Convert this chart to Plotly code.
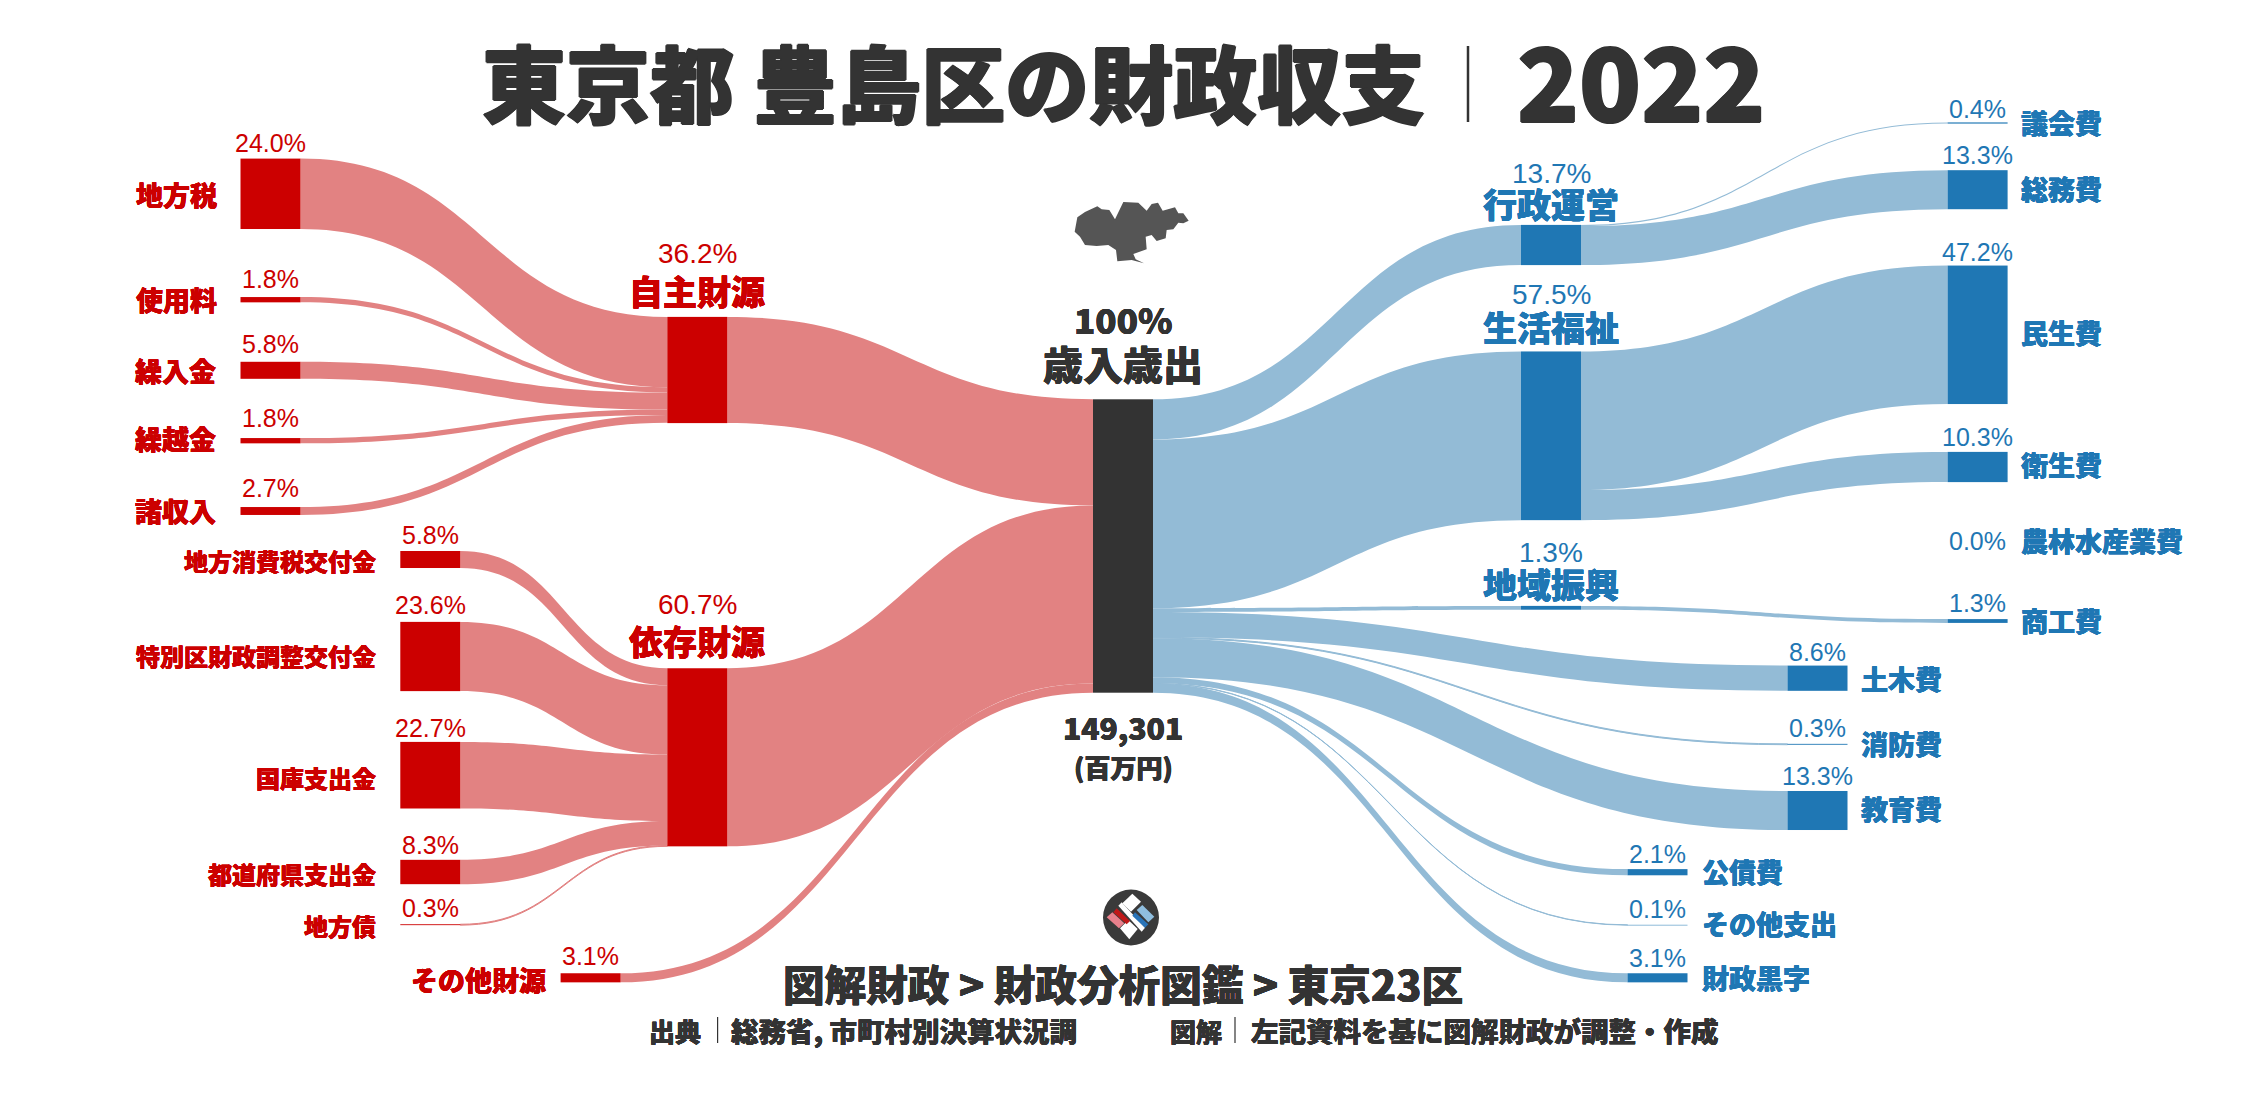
import plotly.graph_objects as go

W, H = 2247, 1096
JP = "Noto Sans CJK JP"
PCT = "Liberation Sans"
RED, BLUE, DARK = "#CC0000", "#1F77B4", "#333333"
RED_LINK, BLUE_LINK = "#E28282", "#93BBD6"
SANKEY_H = 293.4  # height of the 100% column, in pixels

node_names = ["地方税", "使用料", "繰入金", "繰越金", "諸収入",
              "地方消費税交付金", "特別区財政調整交付金", "国庫支出金", "都道府県支出金", "地方債",
              "その他財源", "自主財源", "依存財源", "歳入歳出",
              "行政運営", "生活福祉", "地域振興",
              "議会費", "総務費", "民生費", "衛生費", "商工費",
              "土木費", "消防費", "教育費", "公債費", "その他支出", "財政黒字"]
node_kind = ["r"] * 13 + ["k"] + ["b"] * 14
node_x_px = [270.5] * 5 + [430.3] * 5 + [590.6, 697.3, 697.3, 1123,
             1551, 1551, 1551, 1977.6, 1977.6, 1977.6, 1977.6, 1977.6,
             1817.5, 1817.5, 1817.5, 1657.5, 1657.5, 1657.5]
node_y_px = [193.8, 299.7, 370.3, 440.7, 511,
             559.5, 656.5, 775.2, 872, 924.7,
             977.8, 370, 757.3, 546,
             245, 435.8, 607.8,
             123, 189.7, 334.8, 467, 621,
             678.2, 744.3, 810.5, 872.2, 925, 977.8]

link_source = ["地方税", "使用料", "繰入金", "繰越金", "諸収入",
               "地方消費税交付金", "特別区財政調整交付金", "国庫支出金", "都道府県支出金", "地方債",
               "自主財源", "依存財源", "その他財源",
               "歳入歳出", "歳入歳出", "歳入歳出",
               "行政運営", "行政運営", "生活福祉", "生活福祉", "地域振興",
               "歳入歳出", "歳入歳出", "歳入歳出", "歳入歳出", "歳入歳出", "歳入歳出"]
link_target = ["自主財源"] * 5 + ["依存財源"] * 5 + ["歳入歳出"] * 3 + \
              ["行政運営", "生活福祉", "地域振興",
               "議会費", "総務費", "民生費", "衛生費", "商工費",
               "土木費", "消防費", "教育費", "公債費", "その他支出", "財政黒字"]
link_value = [24.0, 1.8, 5.8, 1.8, 2.7,
              5.8, 23.6, 22.7, 8.3, 0.3,
              36.2, 60.7, 3.1,
              13.7, 57.5, 1.3,
              0.4, 13.3, 47.2, 10.3, 1.3,
              8.6, 0.3, 13.3, 2.1, 0.1, 3.1]

name_labels = [
    ("地方税", 217, 194.5, 27, "right", RED), ("使用料", 217, 300, 27, "right", RED),
    ("繰入金", 216, 370, 27, "right", RED), ("繰越金", 216, 438, 27, "right", RED),
    ("諸収入", 216, 510, 27, "right", RED),
    ("地方消費税交付金", 376, 560, 24, "right", RED), ("特別区財政調整交付金", 376, 655, 24, "right", RED),
    ("国庫支出金", 376, 777, 24, "right", RED), ("都道府県支出金", 376, 873, 24, "right", RED),
    ("地方債", 376, 925, 24, "right", RED), ("その他財源", 546, 979, 27, "right", RED),
    ("自主財源", 697.3, 290, 34, "center", RED), ("依存財源", 697.3, 640, 34, "center", RED),
    ("行政運営", 1551, 203, 34, "center", BLUE), ("生活福祉", 1551, 327, 34, "center", BLUE),
    ("地域振興", 1551, 583, 34, "center", BLUE),
    ("議会費", 2021, 123, 27, "left", BLUE), ("総務費", 2021, 188, 27, "left", BLUE),
    ("民生費", 2021, 332, 27, "left", BLUE), ("衛生費", 2021, 465, 27, "left", BLUE),
    ("農林水産業費", 2021, 540, 27, "left", BLUE), ("商工費", 2021, 620, 27, "left", BLUE),
    ("土木費", 1861, 678, 27, "left", BLUE), ("消防費", 1861, 743, 27, "left", BLUE),
    ("教育費", 1861, 808, 27, "left", BLUE), ("公債費", 1702, 871, 27, "left", BLUE),
    ("その他支出", 1702, 923, 27, "left", BLUE), ("財政黒字", 1702, 977, 27, "left", BLUE),
]
pct_labels = [
    ("24.0%", 270.5, 143, 25, RED), ("1.8%", 270.5, 279, 25, RED), ("5.8%", 270.5, 344, 25, RED),
    ("1.8%", 270.5, 418, 25, RED), ("2.7%", 270.5, 488, 25, RED),
    ("5.8%", 430.3, 535, 25, RED), ("23.6%", 430.3, 605, 25, RED), ("22.7%", 430.3, 728, 25, RED),
    ("8.3%", 430.3, 845, 25, RED), ("0.3%", 430.3, 908, 25, RED), ("3.1%", 590.6, 956, 25, RED),
    ("36.2%", 697.3, 253, 28, RED), ("60.7%", 697.3, 604, 28, RED),
    ("13.7%", 1551, 173, 28, BLUE), ("57.5%", 1551, 295, 28, BLUE), ("1.3%", 1551, 552, 28, BLUE),
    ("0.4%", 1977.6, 109, 25, BLUE), ("13.3%", 1977.6, 155, 25, BLUE), ("47.2%", 1977.6, 252, 25, BLUE),
    ("10.3%", 1977.6, 437, 25, BLUE), ("0.0%", 1977.6, 541, 25, BLUE), ("1.3%", 1977.6, 603, 25, BLUE),
    ("8.6%", 1817.5, 652, 25, BLUE), ("0.3%", 1817.5, 728, 25, BLUE), ("13.3%", 1817.5, 776, 25, BLUE),
    ("2.1%", 1657.5, 854, 25, BLUE), ("0.1%", 1657.5, 909, 25, BLUE), ("3.1%", 1657.5, 958, 25, BLUE),
]
dark_labels = [
    ("東京都 豊島区の財政収支", 953, 81, 84, "center", 1.0),
    ("2022", 1641, 77, 102, "center", 1.0),
    ("100%", 1123, 318, 35, "center", 0.3),
    ("歳入歳出", 1123, 363, 40, "center", 0.3),
    ("149,301", 1123, 727, 30, "center", 0.3),
    ("(百万円)", 1123, 766, 26, "center", 0.3),
    ("図解財政 > 財政分析図鑑 > 東京23区", 1123, 983, 41.6, "center", 0.3),
    ("出典", 675, 1030, 26, "center", 0.3),
    ("総務省, 市町村別決算状況調", 731, 1030, 27.5, "left", 0.3),
    ("図解", 1196, 1030, 26, "center", 0.3),
    ("左記資料を基に図解財政が調整・作成", 1251, 1030, 27.5, "left", 0.3),
]

map_outline = [(224,155),(232,112),(255,96),(292,79),(305,88),(328,90),(345,118),(370,66),(415,68),
               (440,92),(455,72),(474,68),(488,92),(525,82),(535,100),(550,100),(566,122),(550,130),
               (535,128),(520,148),(500,150),(497,175),(470,183),(455,165),(437,170),(440,208),
               (400,222),(407,238),(432,250),(395,240),(352,244),(348,210),(325,195),(290,198),
               (255,195),(240,170)]
logo_parts = [
    ("#FFFFFF", [(82,55),(112,26),(138,50),(108,80)]),
    ("#FFFFFF", [(70,62),(80,52),(150,128),(140,140)]),
    ("#FFFFFF", [(75,130),(100,105),(128,132),(103,163)]),
    ("#C01818", [(55,82),(65,70),(105,108),(95,118)]),
    ("#E8808C", [(35,97),(52,82),(88,115),(72,130)]),
    ("#2A74B8", [(112,92),(120,82),(160,118),(150,128)]),
    ("#8FBEDF", [(125,75),(142,60),(178,95),(160,112)]),
]


def px(x):
    return x / W


def py(y):
    return 1 - y / H


def poly(points):
    return "M" + " L".join(f"{px(x)},{py(y)}" for x, y in points) + " Z"


def thick(colour, d):
    return f"{d}px 0 0 {colour}, -{d}px 0 0 {colour}, 0 {d}px 0 {colour}, 0 -{d}px 0 {colour}"


index = {n: i for i, n in enumerate(node_names)}
kind_colour = {"r": RED, "b": BLUE, "k": DARK}

fig = go.Figure(go.Sankey(
    arrangement="fixed",
    domain=dict(x=[0, 1], y=[1 - SANKEY_H / H, 1]),
    hoverinfo="none",
    node=dict(
        label=[""] * len(node_names),
        x=[px(v) for v in node_x_px],
        y=[v / SANKEY_H for v in node_y_px],
        thickness=60,
        pad=0,
        color=[kind_colour[k] for k in node_kind],
        line=dict(width=0),
        hoverinfo="none",
    ),
    link=dict(
        source=[index[n] for n in link_source],
        target=[index[n] for n in link_target],
        value=link_value,
        color=[RED_LINK if node_kind[index[n]] == "r" else BLUE_LINK for n in link_source],
        line=dict(width=0),
        hoverinfo="none",
    ),
))

annotations = []
for text, x, y, size, anchor, colour in name_labels:
    annotations.append(dict(text=text, x=px(x), y=py(y), xanchor=anchor, yanchor="middle",
                            font=dict(family=JP, size=size, color=colour, weight=900,
                                      shadow=thick(colour, 0.3))))
for text, x, y, size, colour in pct_labels:
    annotations.append(dict(text=text, x=px(x), y=py(y), xanchor="center", yanchor="middle",
                            font=dict(family=PCT, size=size, color=colour)))
for text, x, y, size, anchor, extra in dark_labels:
    annotations.append(dict(text=text, x=px(x), y=py(y), xanchor=anchor, yanchor="middle",
                            font=dict(family=JP, size=size, color=DARK, weight=900,
                                      shadow=thick(DARK, extra))))
for a in annotations:
    a.update(xref="paper", yref="paper", showarrow=False, borderpad=0, borderwidth=0)

shapes = [
    dict(type="path", xref="paper", yref="paper", line_width=0, fillcolor="#555555",
         path=poly([(1000 + a / 3, 180 + b / 3) for a, b in map_outline])),
    dict(type="circle", xref="paper", yref="paper", line_width=0, fillcolor="#3A3A3A",
         x0=px(1103), x1=px(1159), y0=py(945.5), y1=py(889.5)),
]
for colour, pts in logo_parts:
    shapes.append(dict(type="path", xref="paper", yref="paper", line_width=0, fillcolor=colour,
                       path=poly([(1095 + a / 3, 885 + b / 3) for a, b in pts])))
for x, y0, y1, w in [(1468, 46, 122, 2.5), (717.6, 1017, 1043, 1.2), (1235, 1017, 1043, 1.2)]:
    shapes.append(dict(type="line", xref="paper", yref="paper", x0=px(x), x1=px(x), y0=py(y0), y1=py(y1),
                       line=dict(color=DARK, width=w)))

fig.update_layout(width=W, height=H, margin=dict(l=0, r=0, t=0, b=0, pad=0),
                  paper_bgcolor="white", plot_bgcolor="white",
                  annotations=annotations, shapes=shapes)

fig.write_html("out.html", config=dict(displayModeBar=False),
               post_script="document.body.style.margin='0';document.body.style.overflow='hidden';")
